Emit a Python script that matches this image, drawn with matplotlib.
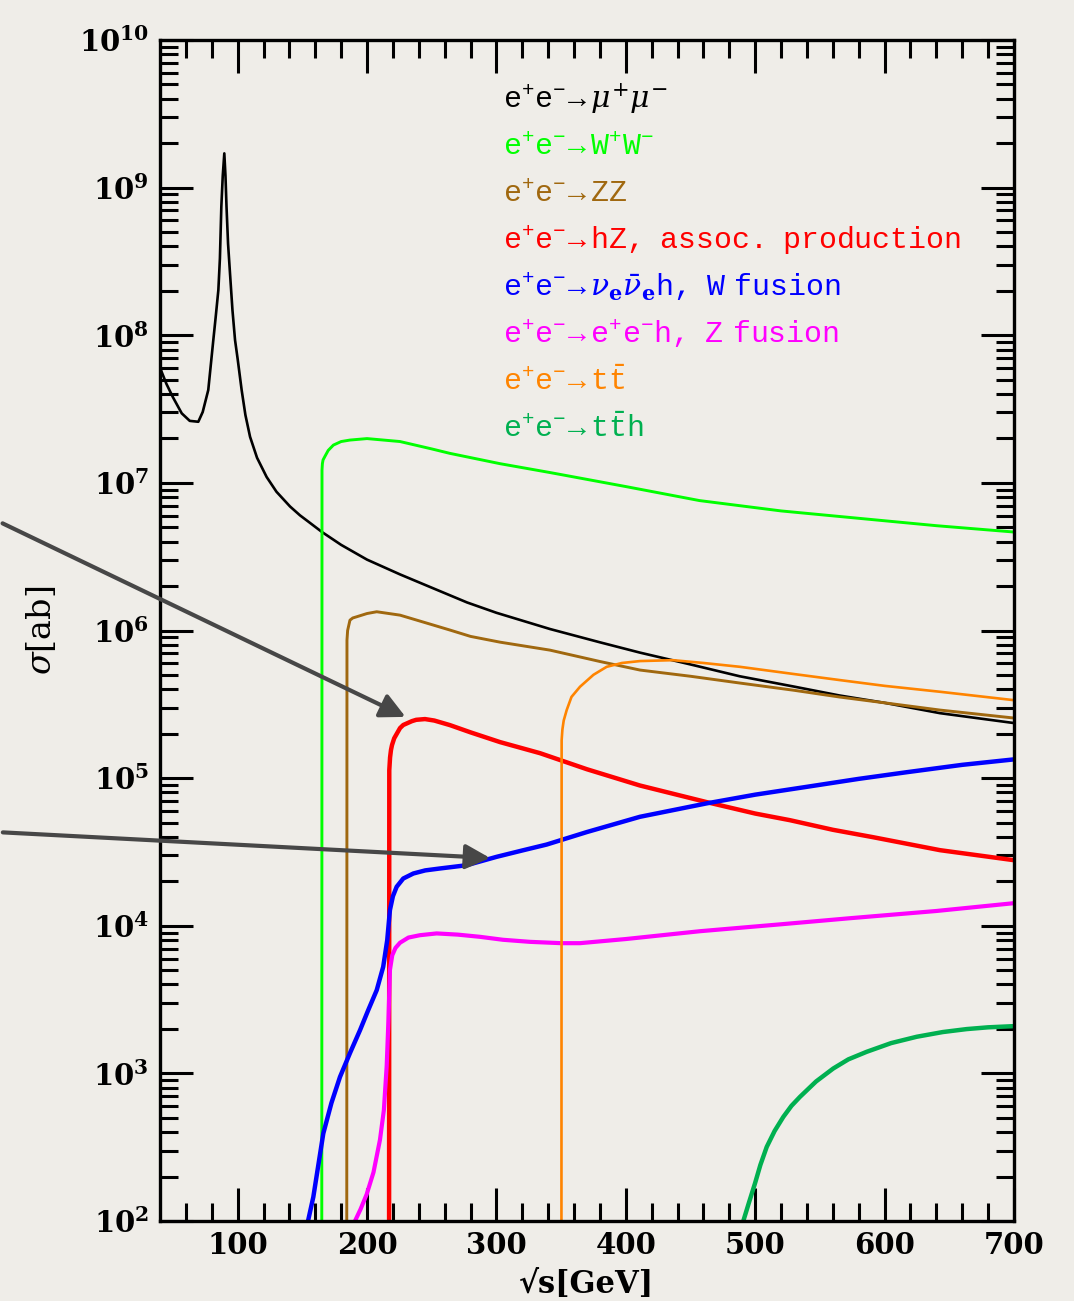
import matplotlib
matplotlib.use('Agg')
import matplotlib.pyplot as plt
import numpy as np
from matplotlib.ticker import FixedLocator, NullFormatter

# ---- data: sqrt(s) in GeV, log10(sigma / ab) ----
E_mumu = [40, 45, 50, 56.8, 63, 69.6, 73, 77.3, 81.2, 83, 85.1, 86.3, 87.4, 88.5, 89.7,
          90.6, 91.4, 92.6, 94.1, 96, 98, 100, 103.1, 106, 109.6, 115, 122.4, 130, 140.5,
          148.2, 155, 165.2, 180, 200, 225.5, 250, 277.3, 300, 341.4, 380, 411, 450, 488,
          530, 565, 600, 642.8, 700]
lg_mumu = [7.78, 7.67, 7.58, 7.471, 7.42, 7.414, 7.48, 7.629, 7.967, 8.12, 8.306, 8.52,
           8.871, 9.08, 9.232, 9.08, 8.871, 8.62, 8.419, 8.17, 7.967, 7.84, 7.629, 7.46,
           7.312, 7.17, 7.04, 6.94, 6.84, 6.78, 6.735, 6.667, 6.58, 6.48, 6.38, 6.29, 6.19,
           6.12, 6.01, 5.92, 5.85, 5.77, 5.69, 5.62, 5.56, 5.51, 5.44, 5.373]

E_ww = [165.0, 165.2, 165.5, 166, 167.5, 170, 174, 180, 186.8, 200, 225.5, 250, 264,
        302.8, 341.4, 400, 457, 520, 580, 640, 700]
lg_ww = [1.0, 7.087, 7.13, 7.155, 7.18, 7.22, 7.256, 7.28, 7.29, 7.30, 7.28, 7.23, 7.20,
         7.13, 7.07, 6.975, 6.88, 6.81, 6.76, 6.71, 6.667]

E_zz = [184.3, 184.5, 185, 186.8, 189, 192, 200, 207.5, 225.5, 250, 264.1, 280, 302.8,
        341.4, 380, 411, 450, 488.2, 530, 565.5, 600, 642.8, 700]
lg_zz = [1.0, 5.935, 6.0, 6.07, 6.085, 6.093, 6.115, 6.127, 6.104, 6.04, 6.003, 5.96,
         5.921, 5.867, 5.79, 5.732, 5.69, 5.644, 5.595, 5.549, 5.51, 5.461, 5.407]

E_hz = [217.0, 217.2, 217.8, 218.5, 219.3, 221, 225.5, 228, 234.7, 238, 244.8, 252, 264.1,
        280, 302.8, 333.7, 370, 410.9, 462.7, 500, 526.9, 560, 591, 642.8, 700]
lg_hz = [1.0, 5.054, 5.14, 5.19, 5.224, 5.27, 5.339, 5.36, 5.386, 5.395, 5.40, 5.39,
         5.359, 5.31, 5.244, 5.169, 5.06, 4.95, 4.837, 4.76, 4.715, 4.65, 4.60, 4.512, 4.444]

E_wfus = [154.4, 158.5, 166.2, 172.5, 179.1, 186.8, 194.6, 201, 207.5, 212.5, 215.6,
          217.7, 220, 222.9, 228, 235.8, 245, 256.4, 277, 300.2, 320, 338.8, 370, 410.9,
          462.5, 500, 539.8, 580, 617, 660, 700]
lg_wfus = [2.0, 2.163, 2.593, 2.80, 2.976, 3.137, 3.293, 3.43, 3.564, 3.722, 3.902,
           4.106, 4.20, 4.264, 4.32, 4.354, 4.375, 4.388, 4.41, 4.467, 4.51, 4.55, 4.635,
           4.738, 4.829, 4.888, 4.941, 4.995, 5.04, 5.09, 5.127]

E_zfus = [190.7, 195, 199.7, 205, 210, 213, 215.2, 216.5, 217.7, 219.5, 222, 225.5, 232,
          240.9, 253.8, 270, 287.3, 305, 325.9, 350, 364.6, 400, 457.3, 520, 573.2, 640, 700]
lg_zfus = [2.0, 2.08, 2.18, 2.33, 2.55, 2.75, 3.05, 3.35, 3.70, 3.80, 3.85, 3.885, 3.92,
           3.936, 3.948, 3.94, 3.925, 3.905, 3.891, 3.882, 3.882, 3.91, 3.963, 4.01, 4.051,
           4.10, 4.153]

E_tt = [350.2, 350.4, 351, 352, 354.3, 358, 364.6, 375, 385.2, 397, 411, 436.4, 460,
        488.2, 530, 565.5, 600, 642.8, 700]
lg_tt = [1.0, 5.257, 5.33, 5.39, 5.461, 5.55, 5.619, 5.70, 5.754, 5.78, 5.793, 5.799,
         5.78, 5.754, 5.705, 5.664, 5.625, 5.585, 5.528]

E_tth = [490.8, 495, 499.8, 504, 508.9, 515, 521.7, 528, 534.6, 547, 560.3, 572, 586.1,
         605, 624.8, 645, 663.4, 680, 700]
lg_tth = [2.0, 2.12, 2.254, 2.38, 2.502, 2.61, 2.705, 2.78, 2.841, 2.945, 3.033, 3.095,
          3.146, 3.205, 3.248, 3.28, 3.30, 3.312, 3.32]

labels = [r'$\mathtt{e^{+}e^{-}\!\rightarrow}\mu^{+}\mu^{-}$',
          r'$\mathtt{e^{+}e^{-}\!\rightarrow W^{+}W^{-}}$',
          r'$\mathtt{e^{+}e^{-}\!\rightarrow ZZ}$',
          r'$\mathtt{e^{+}e^{-}\!\rightarrow hZ,\ assoc.\ production}$',
          r'$\mathtt{e^{+}e^{-}\!\rightarrow}\nu_{\mathbf{e}}\bar{\nu}_{\mathbf{e}}\mathtt{h,\ W\ fusion}$',
          r'$\mathtt{e^{+}e^{-}\!\rightarrow e^{+}e^{-}h,\ Z\ fusion}$',
          r'$\mathtt{e^{+}e^{-}\!\rightarrow t}\bar{\mathtt{t}}$',
          r'$\mathtt{e^{+}e^{-}\!\rightarrow t}\bar{\mathtt{t}}\mathtt{h}$']
colors = ['black', '#00ff00', '#a0680f', '#ff0000', '#0000ff', '#ff00ff', '#ff8400', '#00b050']
widths = [1.9, 2.1, 2.1, 3.2, 3.2, 3.0, 1.9, 3.2]

bg = '#efede8'
plt.rcParams['mathtext.fontset'] = 'custom'
plt.rcParams['mathtext.tt'] = 'Liberation Mono'
plt.rcParams['mathtext.rm'] = 'DejaVu Serif'
plt.rcParams['mathtext.it'] = 'DejaVu Serif:italic'
plt.rcParams['mathtext.bf'] = 'DejaVu Serif:bold'

fig = plt.figure(figsize=(10.74, 13.01), dpi=100, facecolor=bg)
ax = fig.add_axes([160/1074, 80/1301, 854/1074, 1181/1301])
ax.set_facecolor(bg)

curves = [(E_mumu, lg_mumu), (E_ww, lg_ww), (E_zz, lg_zz), (E_hz, lg_hz),
          (E_wfus, lg_wfus), (E_zfus, lg_zfus), (E_tt, lg_tt), (E_tth, lg_tth)]
for (e, lg), c, w in zip(curves, colors, widths):
    ax.plot(e, 10.0**np.array(lg), color=c, lw=w, solid_joinstyle='round')

ax.set_yscale('log')
ax.set_xlim(40, 700)
ax.set_ylim(1e2, 1e10)

ax.xaxis.set_major_locator(FixedLocator(range(100, 701, 100)))
ax.xaxis.set_minor_locator(FixedLocator([v for v in range(60, 701, 20) if v % 100]))
ax.yaxis.set_major_locator(FixedLocator([10.0**k for k in range(2, 11)]))
ax.yaxis.set_minor_locator(FixedLocator([m * 10.0**k for k in range(2, 10) for m in range(2, 10)]))
ax.yaxis.set_minor_formatter(NullFormatter())
ax.set_yticklabels([r'$\mathbf{10^{%d}}$' % k for k in range(2, 11)])
ax.set_xticklabels([str(v) for v in range(100, 701, 100)])

ax.tick_params(which='both', direction='in', top=True, right=True, width=2.2, color='black')
ax.tick_params(which='major', length=24)
ax.tick_params(which='minor', length=13)
ax.tick_params(axis='x', which='major', pad=7, labelsize=21)
ax.tick_params(axis='y', which='major', pad=8, labelsize=21)
for lab in ax.get_xticklabels():
    lab.set_fontweight('bold')
    lab.set_family('DejaVu Serif')
for sp in ax.spines.values():
    sp.set_linewidth(2.4)

ax.set_xlabel('√s[GeV]', fontsize=22, fontweight='bold', family='DejaVu Serif', labelpad=7)
ax.set_ylabel(r'$\sigma\mathrm{[ab]}$', fontsize=24)
ax.yaxis.set_label_coords(-0.119, 0.5)

for i, (t, c) in enumerate(zip(labels, colors)):
    ax.text(0.402, 0.9424 - i*0.0398, t, color=c, fontsize=21.5,
            transform=ax.transAxes, va='baseline', ha='left')

# arrows coming in from the left edge
arrow_style = dict(arrowstyle='-|>,head_length=1.5,head_width=0.75', color='#474747', lw=3.0)
ax.annotate('', xy=(231.7, 2.55e5), xytext=(-83.6, 5.42e6),
            arrowprops=arrow_style, annotation_clip=False)
ax.annotate('', xy=(297.3, 2.87e4), xytext=(-83.6, 4.3e4),
            arrowprops=arrow_style, annotation_clip=False)

fig.savefig('out.png', dpi=100, facecolor=bg)
